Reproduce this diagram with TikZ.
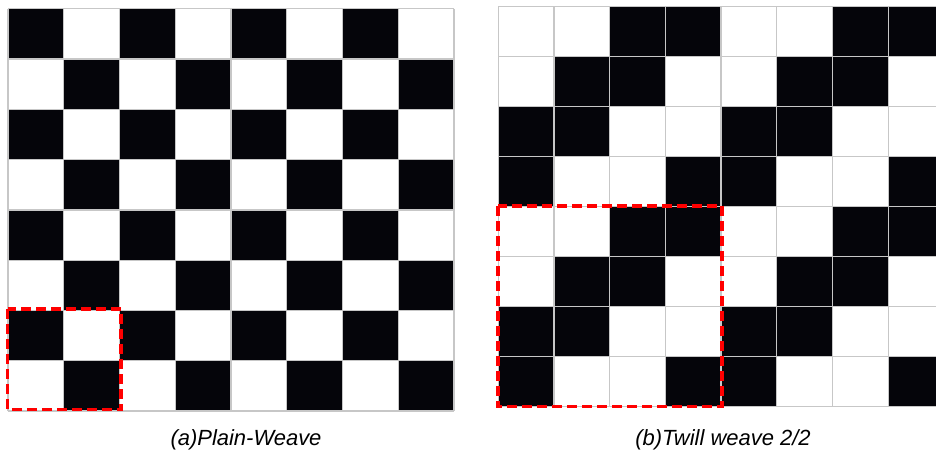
\documentclass[tikz,border=0pt]{standalone}
\usepackage{fontspec}
\setsansfont{Liberation Sans}
\definecolor{weaveblack}{RGB}{5,5,10}
\tikzset{
  cellblack/.style={fill=weaveblack, draw=none},
  gridline/.style={draw=black!22, line width=0.025cm},
  repeatbox/.style={draw=red, line width=0.065cm, dash pattern=on 0.2cm off 0.1cm},
  caption/.style={font=\sffamily\itshape\fontsize{12.5}{14}\selectfont},
}
\begin{document}
\begin{tikzpicture}[x=0.02cm, y=-0.02cm]
\useasboundingbox (0,0) rectangle (936,450);
% plain weave
\foreach \r in {0,...,7}{
  \foreach \c in {0,...,7}{
    \pgfmathtruncatemacro{\odd}{mod(\r+\c,2)}
    \ifnum\odd=0
      \fill[cellblack] ({8+\c*55.75},{8.7+\r*50.3}) rectangle ++(55.75,50.3);
    \fi
  }
}
\foreach \c in {0,...,8} \draw[gridline] ({8+\c*55.75},8.7) -- ++(0,402.4);
\foreach \r in {0,...,8} \draw[gridline] (8,{8.7+\r*50.3}) -- ++(446,0);
\draw[repeatbox] (7.5,309) rectangle (121,409.5);
\node[caption] (capa) at (246,440) {(a)Plain-Weave};
% twill weave 2/2
\begin{scope}
\clip (490,0) rectangle (936,450);
\foreach \r in {0,...,7}{
  \foreach \c in {0,...,7}{
    \pgfmathtruncatemacro{\phase}{mod(\r+\c,4)}
    \ifnum\phase>1
      \fill[cellblack] ({498.3+\c*55.7},{6.7+\r*50}) rectangle ++(55.7,50);
    \fi
  }
}
\foreach \c in {0,...,8} \draw[gridline] ({498.3+\c*55.7},6.7) -- ++(0,400);
\foreach \r in {0,...,8} \draw[gridline] (498.3,{6.7+\r*50}) -- ++(445.6,0);
\end{scope}
\draw[repeatbox] (498,206) rectangle (722,406.5);
\node[caption] (capb) at (723,440) {(b)Twill weave 2/2};
\end{tikzpicture}
\end{document}
